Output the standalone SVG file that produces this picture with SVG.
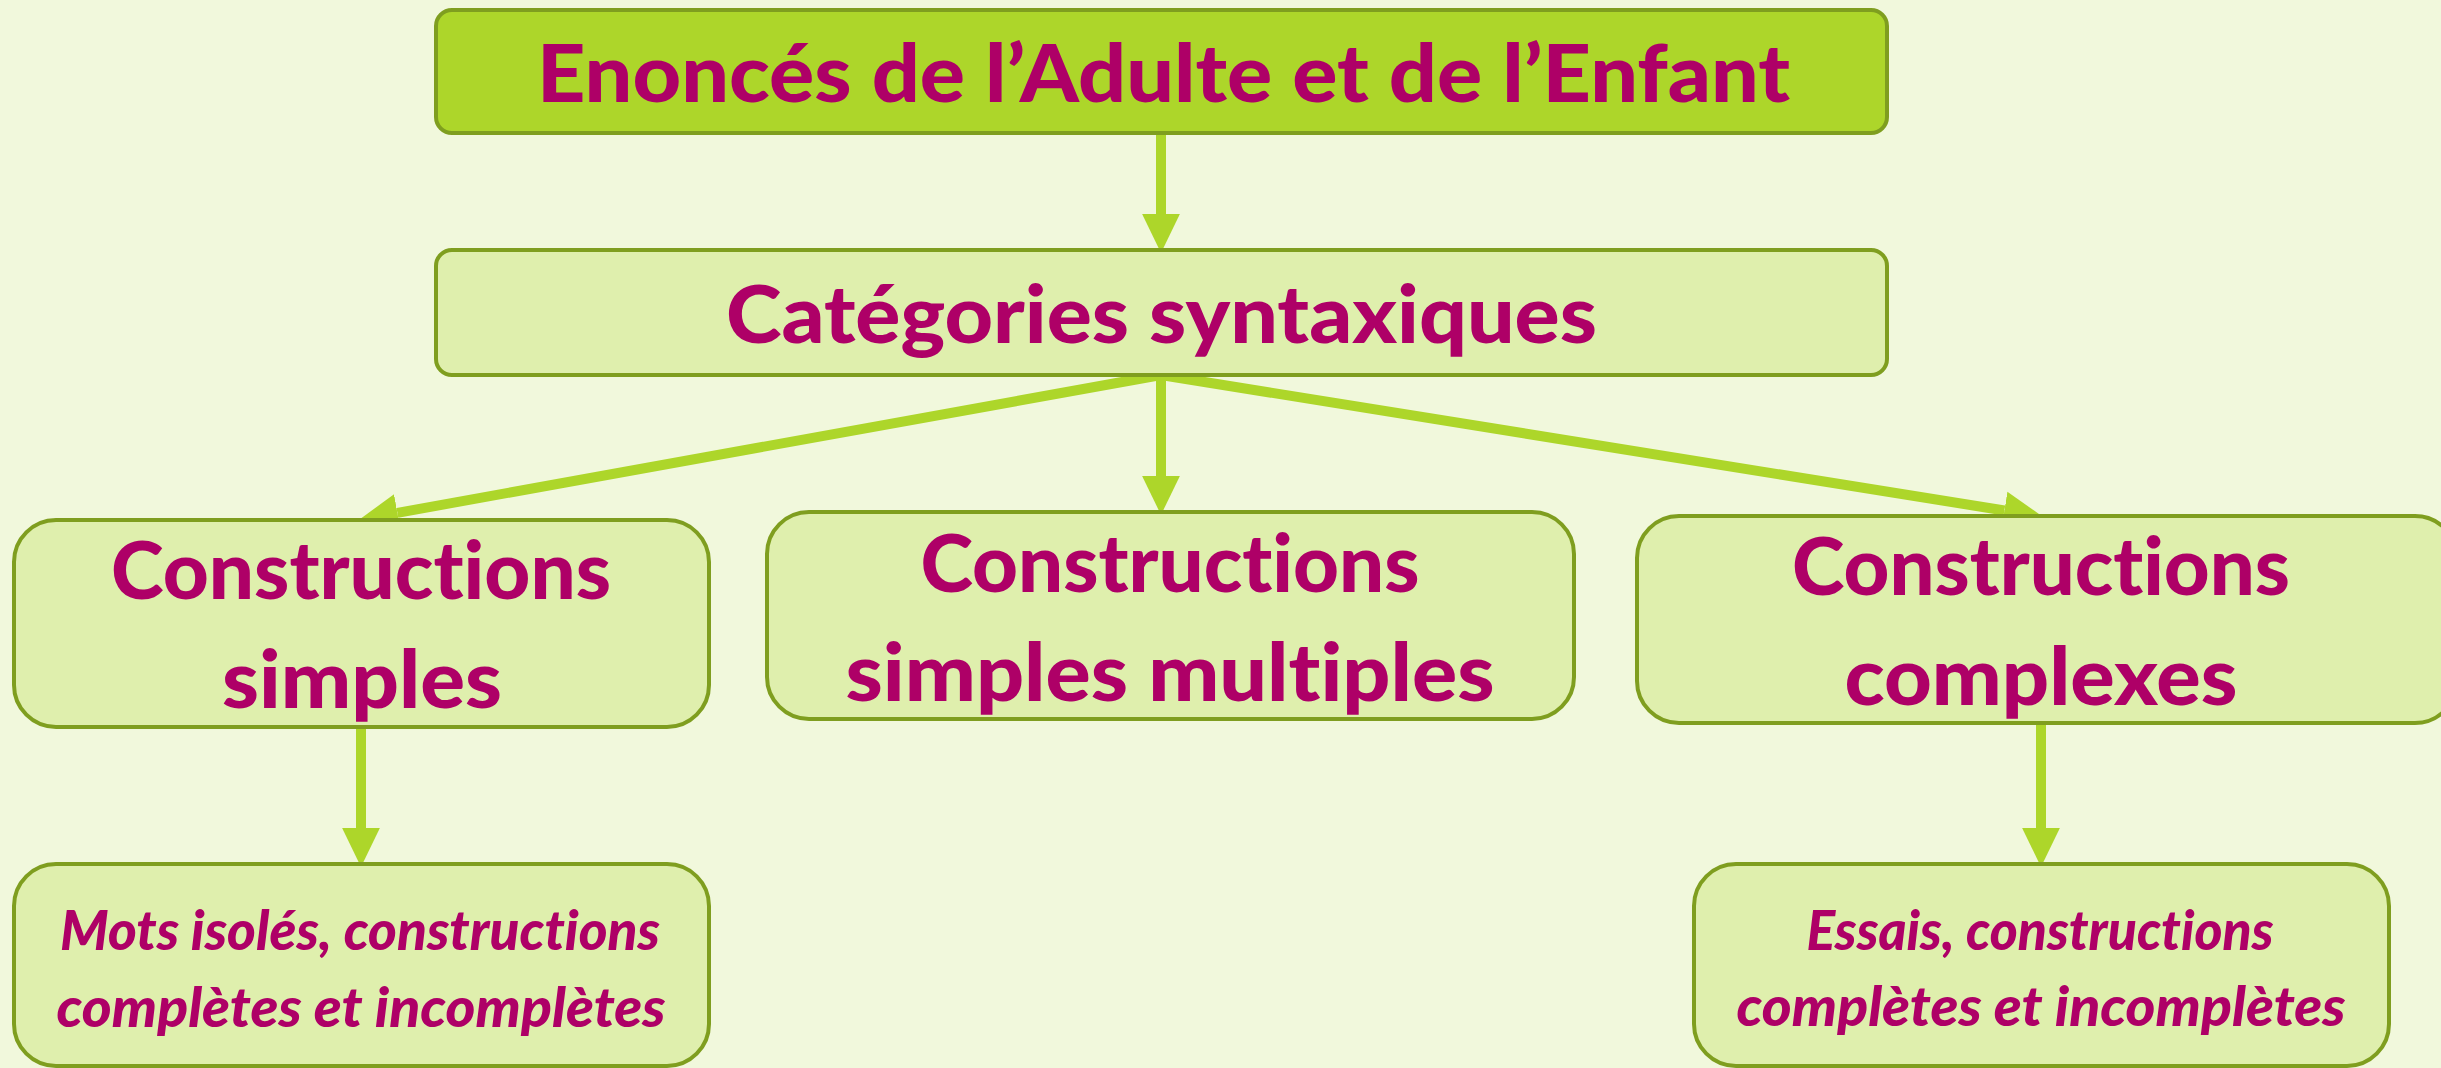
<svg xmlns="http://www.w3.org/2000/svg" width="2441" height="1068" viewBox="0 0 2441 1068">
<style>
.bg{fill:#F1F8DC}
.box{fill:#DFEFAD;stroke:#7F9E1F;stroke-width:4}
.top{fill:#ADD62A;stroke:#7F9E1F;stroke-width:4}
.t{font-family:Lato,"Open Sans","Liberation Sans",sans-serif;font-weight:900;fill:#AE0067;text-anchor:middle;font-variant-ligatures:none}
.big{font-size:80px}
.it{font-size:56px;font-style:italic}
.c{stroke:#ADD62A;stroke-width:10;fill:none}
</style>
<defs>
<marker id="ah" markerUnits="userSpaceOnUse" markerWidth="40" markerHeight="40" refX="0" refY="17" orient="auto" viewBox="0 0 36 34">
<path d="M0,0 L35,17 L0,34 z" fill="#ADD62A"/>
</marker>
</defs>
<rect class="bg" x="0" y="0" width="2441" height="1068"/>
<g id="connectors">
<line class="c" x1="1161" y1="134" x2="1161" y2="214" marker-end="url(#ah)"/>
<line class="c" x1="1161" y1="375" x2="397.4" y2="512.8" marker-end="url(#ah)"/>
<line class="c" x1="1161" y1="375" x2="1161" y2="476" marker-end="url(#ah)"/>
<line class="c" x1="1161" y1="375" x2="2004.4" y2="510.5" marker-end="url(#ah)"/>
<line class="c" x1="361" y1="727" x2="361" y2="828" marker-end="url(#ah)"/>
<line class="c" x1="2041" y1="723" x2="2041" y2="828" marker-end="url(#ah)"/>
</g>
<g id="n_enonces">
<rect class="top" x="436" y="10" width="1451" height="123" rx="16"/>
<text class="t big" x="1163.5" y="102" textLength="1253" lengthAdjust="spacingAndGlyphs">Enoncés de l’Adulte et de l’Enfant</text>
</g>
<g id="n_categories">
<rect class="box" x="436" y="250" width="1451" height="125" rx="16"/>
<text class="t big" x="1161.5" y="343" textLength="871" lengthAdjust="spacingAndGlyphs">Catégories syntaxiques</text>
</g>
<g id="n_simples">
<rect class="box" x="14" y="520" width="695" height="207" rx="42"/>
<text class="t big" x="361" y="599" textLength="500" lengthAdjust="spacingAndGlyphs">Constructions</text>
<text class="t big" x="362" y="708" textLength="280" lengthAdjust="spacingAndGlyphs">simples</text>
</g>
<g id="n_multiples">
<rect class="box" x="767" y="512" width="807" height="207" rx="42"/>
<text class="t big" x="1170" y="592" textLength="499" lengthAdjust="spacingAndGlyphs">Constructions</text>
<text class="t big" x="1170" y="701" textLength="649" lengthAdjust="spacingAndGlyphs">simples multiples</text>
</g>
<g id="n_complexes">
<rect class="box" x="1637" y="516" width="820" height="207" rx="42"/>
<text class="t big" x="2041" y="595" textLength="498" lengthAdjust="spacingAndGlyphs">Constructions</text>
<text class="t big" x="2041" y="705" textLength="393" lengthAdjust="spacingAndGlyphs">complexes</text>
</g>
<g id="n_mots">
<rect class="box" x="14" y="864" width="695" height="202" rx="42"/>
<text class="t it" x="360" y="950" textLength="600" lengthAdjust="spacingAndGlyphs">Mots isolés, constructions</text>
<text class="t it" x="361" y="1027" textLength="609" lengthAdjust="spacingAndGlyphs">complètes et incomplètes</text>
</g>
<g id="n_essais">
<rect class="box" x="1694" y="864" width="695" height="202" rx="42"/>
<text class="t it" x="2040" y="950" textLength="467" lengthAdjust="spacingAndGlyphs">Essais, constructions</text>
<text class="t it" x="2041" y="1026" textLength="609" lengthAdjust="spacingAndGlyphs">complètes et incomplètes</text>
</g>
</svg>
